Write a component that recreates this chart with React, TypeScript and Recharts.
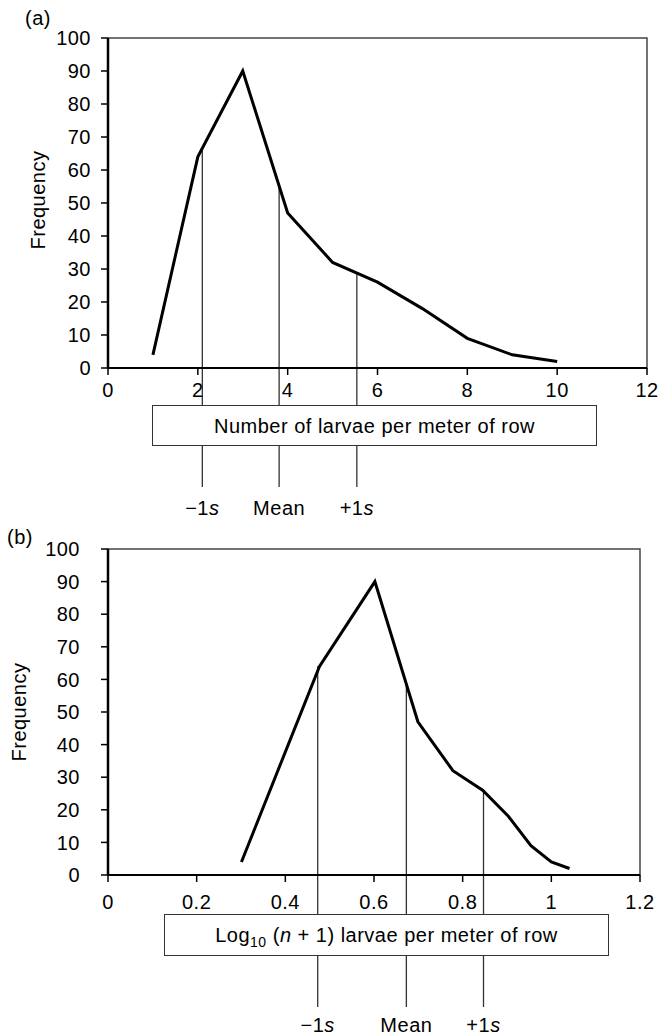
import React from 'react';
import { LineChart, Line, XAxis, YAxis, ReferenceLine, ReferenceArea } from 'recharts';

const FONT = '"Liberation Sans", Arial, Helvetica, sans-serif';

// larvae counts per meter of row and how often each count was seen
const larvaeCounts = [1, 2, 3, 4, 5, 6, 7, 8, 9, 10];
const frequencies = [4, 64, 90, 47, 32, 26, 18, 9, 4, 2];
// same counts on a log10(n + 1) scale
const logCounts = [0.301, 0.477, 0.602, 0.699, 0.778, 0.845, 0.903, 0.954, 1.0, 1.041];

const rawTicks = [0, 2, 4, 6, 8, 10, 12];
const logTicks = [0, 0.2, 0.4, 0.6, 0.8, 1, 1.2];
const freqTicks = [0, 10, 20, 30, 40, 50, 60, 70, 80, 90, 100];

// mean and +/- one standard deviation markers
const sdLabels = ['-1', 'Mean', '+1'];
const rawSdX = [2.1, 3.81, 5.54];
const rawSdY = [66, 55, 29];
const logSdX = [0.473, 0.673, 0.847];
const logSdY = [64, 58, 26];

const rawData = larvaeCounts.map((x, i) => ({ x, y: frequencies[i] }));
const logData = logCounts.map((x, i) => ({ x, y: frequencies[i] }));

const FS = 20;
const LS = 0.5;
const tickStyle = { fontSize: FS, fill: '#000', fontFamily: FONT, letterSpacing: LS };

// vertical marker drawn from the curve down past the axis, with its name underneath
const sdShape = (label: string, extend: number, textGap: number) => (props: any) => {
  const { x1, y1, x2, y2 } = props;
  const top = Math.min(y1, y2);
  const bottom = Math.max(y1, y2) + extend;
  return (
    <g>
      <line x1={x1} y1={top} x2={x2} y2={bottom} stroke="#333" strokeWidth={1.3} />
      <text
        x={x1}
        y={bottom + textGap}
        textAnchor="middle"
        fontSize={FS}
        fontFamily={FONT}
        letterSpacing={LS}
        fill="#000"
      >
        {label === 'Mean' ? (
          'Mean'
        ) : (
          <>
            {label === '-1' ? '\u22121' : '+1'}
            <tspan fontStyle="italic">s</tspan>
          </>
        )}
      </text>
    </g>
  );
};

function Panel({
  data,
  domain,
  ticks,
  sdX,
  sdY,
  height,
  margin,
  yTickMargin,
  xTickMargin,
  extend,
  textGap,
}: {
  data: { x: number; y: number }[];
  domain: [number, number];
  ticks: number[];
  sdX: number[];
  sdY: number[];
  height: number;
  margin: { top: number; right: number; bottom: number; left: number };
  yTickMargin: number;
  xTickMargin: number;
  extend: number;
  textGap: number;
}) {
  return (
    <LineChart width={661} height={height} data={data} margin={margin} style={{ fontFamily: FONT }}>
      <ReferenceArea
        x1={domain[0]}
        x2={domain[1]}
        y1={0}
        y2={100}
        fill="none"
        stroke="#444"
        strokeWidth={1.5}
      />
      <XAxis
        type="number"
        dataKey="x"
        domain={domain}
        ticks={ticks}
        allowDataOverflow
        tick={tickStyle}
        tickSize={7}
        tickMargin={xTickMargin}
        axisLine={{ stroke: '#000', strokeWidth: 2 }}
        tickLine={{ stroke: '#000', strokeWidth: 1.5 }}
        height={30}
      />
      <YAxis
        type="number"
        domain={[0, 100]}
        ticks={freqTicks}
        tick={tickStyle}
        tickSize={7}
        tickMargin={yTickMargin}
        axisLine={{ stroke: '#000', strokeWidth: 2.5 }}
        tickLine={{ stroke: '#000', strokeWidth: 1.5 }}
        width={60}
      />
      {sdX.map((x, i) => (
        <ReferenceLine
          key={sdLabels[i]}
          segment={[
            { x, y: sdY[i] },
            { x, y: 0 },
          ]}
          ifOverflow="visible"
          shape={sdShape(sdLabels[i], extend, textGap)}
        />
      ))}
      <Line
        type="linear"
        dataKey="y"
        stroke="#000"
        strokeWidth={3}
        dot={false}
        isAnimationActive={false}
      />
    </LineChart>
  );
}

const abs = (left: number, top: number): React.CSSProperties => ({
  position: 'absolute',
  left,
  top,
  fontFamily: FONT,
  fontSize: FS,
  letterSpacing: LS,
  color: '#000',
  lineHeight: 1,
});

const boxStyle = (left: number, top: number, width: number, height: number): React.CSSProperties => ({
  ...abs(left, top),
  width,
  height,
  boxSizing: 'border-box',
  border: '1.5px solid #333',
  background: '#fff',
  display: 'flex',
  alignItems: 'center',
  justifyContent: 'center',
  whiteSpace: 'nowrap',
});

const freqLabel = (cx: number, cy: number): React.CSSProperties => ({
  ...abs(cx - 60, cy - 11),
  width: 120,
  height: 22,
  textAlign: 'center',
  transform: 'rotate(-90deg)',
});

export default function App() {
  return (
    <div style={{ position: 'absolute', left: 0, top: 0, width: 661, height: 1035, background: '#fff' }}>
      <div style={{ position: 'absolute', left: 0, top: 0 }}>
        <Panel
          data={rawData}
          domain={[0, 12]}
          ticks={rawTicks}
          sdX={rawSdX}
          sdY={rawSdY}
          height={530}
          margin={{ top: 38, right: 14, bottom: 132, left: 48 }}
          yTickMargin={10}
          xTickMargin={8}
          extend={119}
          textGap={28}
        />
      </div>
      <div style={{ position: 'absolute', left: 0, top: 500 }}>
        <Panel
          data={logData}
          domain={[0, 1.2]}
          ticks={logTicks}
          sdX={logSdX}
          sdY={logSdY}
          height={535}
          margin={{ top: 49, right: 21, bottom: 130, left: 48 }}
          yTickMargin={21}
          xTickMargin={13}
          extend={132}
          textGap={25}
        />
      </div>

      <div style={abs(25, 8)}>(a)</div>
      <div style={freqLabel(39, 200)}>Frequency</div>
      <div style={boxStyle(152, 405, 445, 41)}>Number of larvae per meter of row</div>

      <div style={abs(7, 527)}>(b)</div>
      <div style={freqLabel(20, 712)}>Frequency</div>
      <div style={boxStyle(164, 914, 445, 42)}>
        <span>
          Log<sub style={{ fontSize: 14, verticalAlign: 'sub', lineHeight: 0 }}>10</sub> (<i>n</i> + 1) larvae per
          meter of row
        </span>
      </div>
    </div>
  );
}
